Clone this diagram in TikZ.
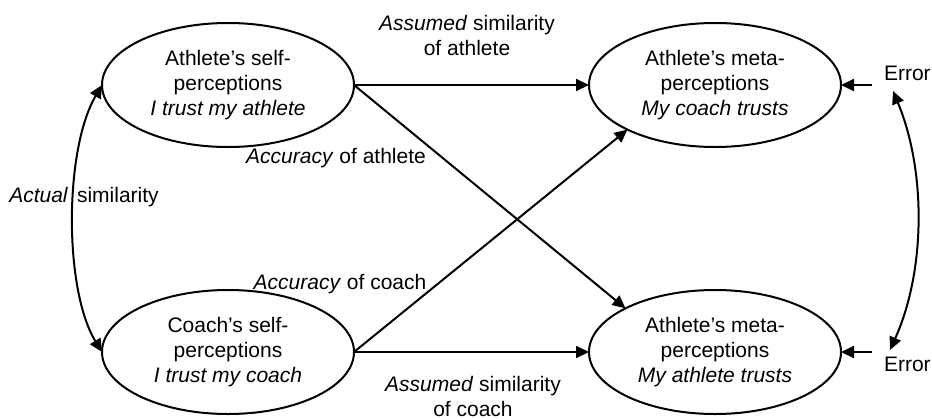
\documentclass[tikz,border=0pt]{standalone}
\usepackage{fontspec}
\setmainfont{Liberation Sans}
\usetikzlibrary{arrows.meta,shapes.geometric}
\begin{document}
\begin{tikzpicture}[x=0.5pt,y=-0.5pt,
  font=\fontsize{10.5}{12.5}\selectfont,
  every node/.style={inner sep=0pt,outer sep=0pt},
  construct/.style={draw,line width=1pt,ellipse,minimum width=126pt,minimum height=62pt,align=center},
  lbl/.style={align=center},
  conn/.style={line width=1pt,-{Triangle[length=6.5pt,width=6pt]}},
  dconn/.style={line width=1pt,{Triangle[length=6.5pt,width=6pt]}-{Triangle[length=6.5pt,width=6pt]}}]
\useasboundingbox (0,0) rectangle (932,418);
\node[construct] (a1) at (228,85) {Athlete’s self-\\perceptions\\\textit{I trust my athlete}};
\node[construct] (c1) at (228,352) {Coach’s self-\\perceptions\\\textit{I trust my coach}};
\node[construct] (m1) at (715,85) {Athlete’s meta-\\perceptions\\\textit{My coach trusts}};
\node[construct] (m2) at (715,352) {Athlete’s meta-\\perceptions\\\textit{My athlete trusts}};
\node[anchor=west] (e1) at (884,73) {Error};
\node[anchor=west] (e2) at (884,364) {Error};
\coordinate (s1) at (872,85);
\coordinate (s2) at (872,352);
\coordinate (t1) at (893,91);
\coordinate (t2) at (890,350);
% labels
\node[lbl] (l1) at (467,35) {\textit{Assumed} similarity\\of athlete};
\node[lbl] (l2) at (473,396) {\textit{Assumed} similarity\\of coach};
\node (l3) at (336,158) {\textit{Accuracy} of athlete};
\node (l4) at (340,284) {\textit{Accuracy} of coach};
\node (l5) at (84,197) {\textit{Actual}\hspace{4.5pt}similarity};
% connectors
\draw[conn] (a1.east) -- (m1.west);
\draw[conn] (c1.east) -- (m2.west);
\draw[conn] (a1.east) -- (m2.154);
\draw[conn] (c1.east) -- (m1.207);
\draw[conn] (s1) -- (m1.east);
\draw[conn] (s2) -- (m2.east);
\draw[dconn] (a1.west) .. controls (64,150) and (64,290) .. (c1.west);
\draw[dconn] (t1) .. controls (926,170) and (926,270) .. (t2);
\end{tikzpicture}
\end{document}
